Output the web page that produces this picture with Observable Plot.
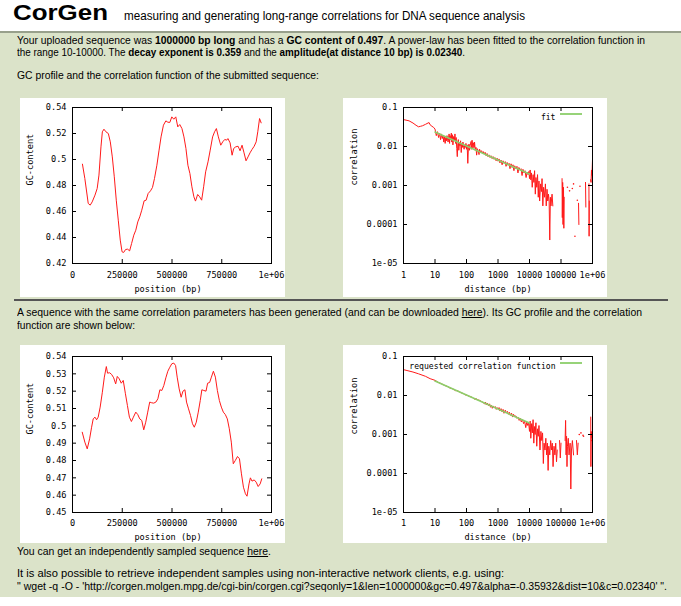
<!DOCTYPE html>
<html><head><meta charset="utf-8">
<script src="https://cdn.jsdelivr.net/npm/d3@7"></script>
<script src="https://cdn.jsdelivr.net/npm/@observablehq/plot@0.6"></script>
<style>
html,body{margin:0;padding:0;background:#fff;}
#page{position:relative;width:681px;height:606px;overflow:hidden;background:#fff;font-family:"Liberation Sans",Arial,sans-serif;color:#000;}
.t{position:absolute;white-space:nowrap;font-size:11px;line-height:13px;transform-origin:0 50%;}
.box{position:absolute;background:#fff;}
.box svg{display:block;max-width:none;}
u{text-decoration:underline;}
</style></head><body>
<div id="page">
  <div style="position:absolute;left:0;top:33px;width:681px;height:564px;background:#dbe3c9"></div>
  <div style="position:absolute;left:0;top:31px;width:681px;height:2px;background:#98a08c"></div>
  <div class="t" style="left:13px;top:1px;font-size:22px;font-weight:bold;line-height:24px" data-w="95">CorGen</div>
  <div class="t" style="left:124px;top:9px;font-size:12px;line-height:14px" data-w="401">measuring and generating long-range correlations for DNA sequence analysis</div>
  <div class="t" style="left:17px;top:34px" data-w="628">Your uploaded sequence was <b>1000000 bp long</b> and has a <b>GC content of 0.497</b>. A power-law has been fitted to the correlation function in</div>
  <div class="t" style="left:17px;top:46px" data-w="448">the range 10-10000. The <b>decay exponent is 0.359</b> and the <b>amplitude(at distance 10 bp) is 0.02340</b>.</div>
  <div class="t" style="left:17px;top:69px" data-w="302">GC profile and the correlation function of the submitted sequence:</div>
  <div class="box" id="c1" style="left:20px;top:98px;width:265px;height:199px"></div>
  <div class="box" id="c2" style="left:343px;top:98px;width:264px;height:199px"></div>
  <div style="position:absolute;left:14px;top:299px;width:654px;height:2px;background:#555"></div>
  <div class="t" style="left:17px;top:306px" data-w="625">A sequence with the same correlation parameters has been generated (and can be downloaded <u>here</u>). Its GC profile and the correlation</div>
  <div class="t" style="left:17px;top:319px" data-w="118">function are shown below:</div>
  <div class="box" id="c3" style="left:20px;top:345px;width:265px;height:198px"></div>
  <div class="box" id="c4" style="left:343px;top:345px;width:264px;height:198px"></div>
  <div class="t" style="left:17px;top:545px" data-w="254">You can get an independently sampled sequence <u>here</u>.</div>
  <div class="t" style="left:17px;top:567px" data-w="487">It is also possible to retrieve independent samples using non-interactive network clients, e.g. using:</div>
  <div class="t" style="left:17px;top:580px" data-w="650">" wget -q -O - 'http://corgen.molgen.mpg.de/cgi-bin/corgen.cgi?seqonly=1&amp;len=1000000&amp;gc=0.497&amp;alpha=-0.35932&amp;dist=10&amp;c=0.02340' ".</div>
</div>
<script>
// ---------- tick values and labels ----------
const gcXTicks = [0, 250000, 500000, 750000, 1000000];
const gcXLabels = ["0", "250000", "500000", "750000", "1e+06"];
const gc1YTicks = [0.42, 0.44, 0.46, 0.48, 0.50, 0.52, 0.54];
const gc1YLabels = ["0.42", "0.44", "0.46", "0.48", "0.5", "0.52", "0.54"];
const gc2YTicks = [0.45, 0.46, 0.47, 0.48, 0.49, 0.50, 0.51, 0.52, 0.53, 0.54];
const gc2YLabels = ["0.45", "0.46", "0.47", "0.48", "0.49", "0.5", "0.51", "0.52", "0.53", "0.54"];
const logXTicks = [1, 10, 100, 1000, 10000, 100000, 1000000];
const logXLabels = ["1", "10", "100", "1000", "10000", "100000", "1e+06"];
const logYTicks = [1e-5, 1e-4, 1e-3, 1e-2, 1e-1];
const logYLabels = ["1e-05", "0.0001", "0.001", "0.01", "0.1"];

// ---------- GC profile of the submitted sequence ----------
const gc1Pos = [50000,62000,79000,89000,99000,113000,124000,133000,143000,150000,158000,168000,180000,190000,200000,210000,220000,230000,240000,249000,257000,267000,277000,287000,297000,308000,318000,328000,338000,348000,360000,370000,380000,392000,402000,412000,424000,435000,445000,457000,469000,479000,489000,499000,509000,519000,529000,539000,550000,560000,570000,580000,590000,600000,610000,618000,629000,639000,649000,659000,669000,681000,692000,704000,714000,723000,733000,745000,755000,765000,775000,781000,792000,802000,810000,820000,832000,842000,852000,862000,872000,882000,892000,902000,913000,923000,931000,940000,948000];
const gc1Val = [0.4964,0.4854,0.4662,0.4649,0.4674,0.4726,0.4777,0.4880,0.5097,0.5213,0.5233,0.5213,0.5200,0.5136,0.5020,0.4867,0.4687,0.4533,0.4380,0.4290,0.4285,0.4308,0.4310,0.4297,0.4354,0.4418,0.4456,0.4520,0.4559,0.4610,0.4682,0.4687,0.4738,0.4759,0.4785,0.4854,0.4956,0.5072,0.5174,0.5264,0.5297,0.5287,0.5285,0.5328,0.5310,0.5328,0.5251,0.5269,0.5238,0.5174,0.5085,0.4956,0.4892,0.4790,0.4713,0.4680,0.4731,0.4713,0.4687,0.4790,0.4905,0.4982,0.5072,0.5174,0.5213,0.5238,0.5174,0.5110,0.5136,0.5154,0.5149,0.5161,0.5128,0.5033,0.5085,0.5097,0.5102,0.5067,0.5110,0.5051,0.4990,0.5020,0.5051,0.5077,0.5102,0.5136,0.5213,0.5315,0.5282];

// ---------- GC profile of the generated sequence ----------
const gc2Pos = [49000,62000,74000,86000,96000,104000,113000,121000,129000,139000,150000,160000,170000,176000,187000,197000,207000,217000,225000,235000,245000,255000,266000,276000,286000,296000,306000,318000,328000,338000,348000,358000,368000,378000,388000,398000,408000,419000,429000,439000,449000,459000,469000,479000,489000,499000,509000,518000,526000,536000,546000,555000,565000,573000,583000,593000,603000,612000,622000,632000,642000,650000,660000,671000,679000,689000,698000,708000,718000,728000,738000,748000,758000,768000,778000,788000,798000,808000,818000,829000,839000,849000,859000,869000,877000,887000,894000,902000,913000,923000,933000,943000,951000];
const gc2Val = [0.4963,0.4906,0.4867,0.4925,0.4992,0.5040,0.5050,0.5035,0.5050,0.5108,0.5194,0.5281,0.5342,0.5304,0.5306,0.5296,0.5277,0.5242,0.5285,0.5271,0.5246,0.5262,0.5185,0.5117,0.5050,0.5025,0.5050,0.5079,0.5065,0.5040,0.5031,0.4977,0.5021,0.5079,0.5137,0.5133,0.5131,0.5137,0.5156,0.5208,0.5204,0.5233,0.5277,0.5315,0.5338,0.5358,0.5362,0.5348,0.5281,0.5213,0.5165,0.5200,0.5208,0.5137,0.5098,0.5060,0.5012,0.4992,0.5021,0.5079,0.5146,0.5208,0.5204,0.5200,0.5246,0.5250,0.5281,0.5315,0.5281,0.5204,0.5146,0.5108,0.5079,0.5065,0.5040,0.4983,0.4906,0.4781,0.4800,0.4823,0.4810,0.4723,0.4646,0.4608,0.4594,0.4665,0.4700,0.4681,0.4688,0.4675,0.4650,0.4665,0.4694];

// ---------- correlation function of the submitted sequence [distance, correlation]; null = gap ----------
const corrSubmitted = [
[1,0.049],[1.5,0.0455],[2,0.040],[2.5,0.035],[3,0.032],[3.5,0.033],[4,0.034],[5,0.037],[6,0.040],[6.5,0.041],[7,0.036],[8,0.033],[9,0.031],[10,0.028],
[11,0.019],[12,0.024],[13,0.017],[14,0.022],[15,0.015],[16,0.021],[17,0.016],[18,0.019],[19,0.013],[20,0.018],[21,0.012],[22,0.017],[23,0.014],[24,0.019],[26,0.013],[27,0.016],[28,0.021],[29,0.012],[30,0.019],[31,0.015],[33,0.022],[34,0.013],[36,0.020],[37,0.011],[39,0.018],[41,0.014],[43,0.021],[45,0.012],[47,0.017],[49,0.009],[51,0.0055],[53,0.012],[55,0.015],[57,0.008],[60,0.013],[62,0.0105],[65,0.014],[68,0.007],[71,0.012],[74,0.0095],[77,0.013],[80,0.0105],[84,0.0085],[88,0.011],[92,0.0095],[96,0.012],[100,0.0085],
[105,0.011],[110,0.0037],[115,0.0095],[120,0.0115],[125,0.008],[130,0.0105],[140,0.0135],[145,0.0085],[150,0.0145],[160,0.009],[165,0.0125],[175,0.0095],[180,0.013],[190,0.008],[200,0.0095],[210,0.006],[220,0.0088],[235,0.0078],[250,0.0062],[260,0.0085],[280,0.0072],[300,0.0078],[320,0.0068],[340,0.0074],[360,0.0064],[390,0.0071],[420,0.0058],[450,0.0066],[480,0.0055],[520,0.0061],[560,0.0052],[600,0.0058],[650,0.0049],[700,0.0055],[750,0.0047],[800,0.0052],[870,0.0043],[940,0.0050],[1000,0.0042],
[1080,0.0048],[1150,0.0038],[1250,0.0045],[1350,0.0034],[1450,0.0043],[1550,0.0037],[1700,0.0041],[1800,0.0031],[1950,0.0039],[2100,0.0033],[2250,0.0037],[2400,0.0027],[2600,0.0036],[2800,0.0029],[3000,0.0034],[3200,0.0024],[3400,0.0032],[3700,0.0027],[4000,0.0031],[4300,0.0021],[4600,0.0029],[5000,0.0025],[5400,0.0027],[5800,0.0018],[6200,0.0026],[6700,0.0021],[7200,0.0024],[7800,0.0016],[8400,0.0022],[9000,0.0019],[9600,0.0023],[10000,0.0015],
[10500,0.0025],[11000,0.0014],[11500,0.0021],[12200,0.0009],[13000,0.0019],[13800,0.0012],[14500,0.0024],[15300,0.0006],[16000,0.0016],[17000,0.0009],[18000,0.0019],[19000,0.0005],[20000,0.0013],[21000,0.0004],[22500,0.0011],[24000,0.0007],[25000,0.0015],[26500,0.0003],[28000,0.0009],[30000,0.0005],[32000,0.0011],[34000,0.0003],[36000,0.0008],[38000,0.0004],[40000,0.0006],[42000,0.0004],[44000,0.00004],[46000,0.0005],[48000,0.0003],[52000,0.0006],[55000,0.0003],[60000,null],
[108000,0.0015],[110000,0.00015],[113000,0.0012],[116000,0.0001],[120000,0.0009],[123000,0.00008],[126000,0.0005],[130000,null],
[360000,0.00035],[370000,0.0001],[380000,null],
[600000,0.0012],[615000,0.00028],[620000,null],
[770000,0.0011],[780000,0.00005],[790000,0.0004],[800000,null],
[870000,0.0014],[900000,0.0012],[930000,0.0025],[960000,0.0018],[1000000,0.0045]
];
const dotsSubmitted = [[160000,0.0009],[187000,0.00073],[229000,0.00084],[250000,0.0011],[277000,0.00005],[330000,0.00042],[400000,0.00096]];
const fitDist = [10, 10000];
const fitCorr = [0.0234, 0.00196];

// ---------- correlation function of the generated sequence ----------
const corrGenerated = [
[1,0.046],[2,0.040],[3,0.036],[5,0.031],[7,0.027],[10,0.0245],
[13,0.0215],[16,0.020],[20,0.0182],[25,0.0170],[30,0.0155],[35,0.0150],[40,0.0142],[45,0.0133],[50,0.0134],[60,0.0124],[70,0.0116],[80,0.0112],[90,0.0104],[100,0.0103],
[120,0.0096],[140,0.0092],[160,0.0088],[180,0.0080],[200,0.0083],[230,0.0077],[260,0.0075],[300,0.0070],[340,0.0066],[380,0.0060],[400,0.0068],[430,0.0057],[460,0.0064],[500,0.0055],[540,0.0061],[580,0.0050],[620,0.0056],[660,0.0047],[700,0.0054],[760,0.0048],[820,0.0052],[880,0.0044],[940,0.0049],[1000,0.0045],
[1080,0.0049],[1150,0.0040],[1250,0.0046],[1350,0.0038],[1450,0.0044],[1550,0.0035],[1700,0.0042],[1850,0.0036],[2000,0.0039],[2150,0.0033],[2300,0.0037],[2500,0.0031],[2700,0.0035],[2900,0.0028],[3100,0.0033],[3400,0.0029],[3700,0.0030],[4000,0.0026],[4300,0.0028],[4700,0.0023],[5100,0.0026],[5500,0.0021],[6000,0.0024],[6500,0.0019],[7000,0.0022],[7600,0.0015],[8200,0.0021],[8800,0.0017],[9400,0.0020],[10000,0.0012],
[10500,0.0022],[11000,0.0008],[11700,0.0019],[12300,0.0011],[13000,0.0024],[13700,0.0006],[14400,0.0016],[15100,0.0010],[16000,0.0020],[17000,0.0005],[18000,0.0014],[19000,0.0009],[20000,0.0017],[21500,0.0004],[23000,0.0012],[24500,0.0007],[26000,0.0011],[27500,0.00018],[29000,0.0006],[31000,0.0004],[33000,0.0008],[35000,0.0003],[37000,0.0006],[39000,0.00012],[41000,0.0005],[44000,0.0003],[47000,0.0007],[50000,0.0004],[53000,0.0006],[56000,0.00015],[60000,0.0005],[64000,0.0003],[68000,0.0006],[72000,0.0002],[76000,0.0004],[80000,null],
[90000,0.0007],[95000,0.00025],[100000,0.0006],[110000,null],
[135000,0.0007],[140000,0.0023],[145000,0.0003],[150000,0.0009],[155000,0.00015],[160000,0.0005],[170000,0.0008],[180000,0.0003],[195000,0.0006],[205000,0.00004],[215000,0.0004],[230000,0.0007],[250000,0.0003],[270000,null],
[310000,0.0007],[330000,0.0003],[350000,0.0006],[360000,null],
[880000,0.0028],[890000,0.00015],[910000,0.0012],[950000,0.0008],[1000000,0.0011]
];
const dotsGenerated = [[380000,0.0010],[430000,0.0011],[500000,0.00095],[520000,0.0009],[940000,0.0007]];
const requestedDist = [10, 10000];
const requestedCorr = [0.0234, 0.00196];

const RED = "#ff1a1a", GREEN = "#8ccf6a";
const FONT = {background:"#fff", fontFamily:"'DejaVu Sans Mono', monospace", fontSize:"8.6px", color:"#000", overflow:"visible"};

function frameTicks(xTicks, yTicks, pw, ph) {
  return [
    Plot.frame({stroke:"#000"}),
    Plot.ruleX(xTicks, {x: d => d, insetTop: ph - 4, stroke:"#000"}),
    Plot.ruleX(xTicks, {x: d => d, insetBottom: ph - 4, stroke:"#000"}),
    Plot.ruleY(yTicks, {y: d => d, insetLeft: pw - 4, stroke:"#000"}),
    Plot.ruleY(yTicks, {y: d => d, insetRight: pw - 4, stroke:"#000"})
  ];
}

function gcChart(pos, val, yTicks, yLabels, W, H, mT, mB, xPad, titleDy) {
  const mL = 52, mR = 14, pw = W - mL - mR, ph = H - mT - mB;
  const data = pos.map((p, i) => ({p, v: val[i]}));
  const xl = new Map(gcXTicks.map((t, i) => [t, gcXLabels[i]]));
  const yl = new Map(yTicks.map((t, i) => [t, yLabels[i]]));
  return Plot.plot({
    width: W, height: H, marginLeft: mL, marginRight: mR, marginTop: mT, marginBottom: mB,
    style: FONT,
    x: {domain: [0, 1e6]},
    y: {domain: [yTicks[0], yTicks[yTicks.length - 1]]},
    marks: [
      Plot.line(data, {x: "p", y: "v", stroke: RED, strokeWidth: 1, clip: true}),
      ...frameTicks(gcXTicks, yTicks, pw, ph),
      Plot.axisX(gcXTicks, {tickSize: 0, tickPadding: xPad, tickFormat: d => xl.get(d), label: null}),
      Plot.axisY(yTicks, {tickSize: 0, tickPadding: 6, tickFormat: d => yl.get(d), label: null}),
      Plot.text(["position (bp)"], {text: d => d, frameAnchor: "bottom", dy: titleDy, dx: -4}),
      Plot.text(["GC-content"], {text: d => d, frameAnchor: "left", dx: -42, rotate: -90})
    ]
  });
}

function corrChart(series, dots, lineD, lineC, legend, legendDx, W, H, mT, mB, xPad, titleDy, legDy) {
  const mL = 60, mR = 15, pw = W - mL - mR, ph = H - mT - mB;
  const data = series.map(d => ({d: d[0], c: d[1]}));
  const dd = dots.map(d => ({d: d[0], c: d[1]}));
  const fit = lineD.map((d, i) => ({d, c: lineC[i]}));
  const xl = new Map(logXTicks.map((t, i) => [t, logXLabels[i]]));
  const yl = new Map(logYTicks.map((t, i) => [t, logYLabels[i]]));
  const svg = Plot.plot({
    width: W, height: H, marginLeft: mL, marginRight: mR, marginTop: mT, marginBottom: mB,
    style: FONT,
    x: {type: "log", domain: [1, 1e6]},
    y: {type: "log", domain: [1e-5, 0.1]},
    marks: [
      Plot.line(data, {x: "d", y: "c", stroke: RED, strokeWidth: 1, clip: true}),
      Plot.dot(dd, {x: "d", y: "c", r: 0.8, fill: RED, stroke: null, clip: true}),
      Plot.line(fit, {x: "d", y: "c", stroke: GREEN, strokeWidth: 1.6, clip: true}),
      ...frameTicks(logXTicks, logYTicks, pw, ph),
      Plot.axisX(logXTicks, {tickSize: 0, tickPadding: xPad, tickFormat: d => xl.get(d), label: null}),
      Plot.axisY(logYTicks, {tickSize: 0, tickPadding: 6, tickFormat: d => yl.get(d), label: null}),
      Plot.text(["distance (bp)"], {text: d => d, frameAnchor: "bottom", dy: titleDy}),
      Plot.text(["correlation"], {text: d => d, frameAnchor: "left", dx: -49, rotate: -90}),
      Plot.text([legend], {text: d => d, frameAnchor: "top-right", dx: legendDx, dy: legDy, textAnchor: "end", fontSize: 8.1})
    ]
  });
  d3.select(svg).append("line")
    .attr("x1", W - mR - 32).attr("x2", W - mR - 10)
    .attr("y1", mT + legDy).attr("y2", mT + legDy)
    .attr("stroke", GREEN).attr("stroke-width", 1.8);
  return svg;
}

document.getElementById("c1").append(gcChart(gc1Pos, gc1Val, gc1YTicks, gc1YLabels, 265, 199, 9, 34, 8, 28));
document.getElementById("c2").append(corrChart(corrSubmitted, dotsSubmitted, fitDist, fitCorr, "fit", -37, 264, 199, 9, 34, 8, 28, 7));
document.getElementById("c3").append(gcChart(gc2Pos, gc2Val, gc2YTicks, gc2YLabels, 265, 198, 11, 31, 7, 27));
document.getElementById("c4").append(corrChart(corrGenerated, dotsGenerated, requestedDist, requestedCorr, "requested correlation function", -37, 264, 198, 11, 31, 7, 27, 7));

// fit the HTML text lines to the widths measured in the reference
document.querySelectorAll(".t[data-w]").forEach(el => {
  const w = el.getBoundingClientRect().width;
  el.style.transform = `scaleX(${(+el.dataset.w / w).toFixed(4)})`;
});
</script>
</body></html>
